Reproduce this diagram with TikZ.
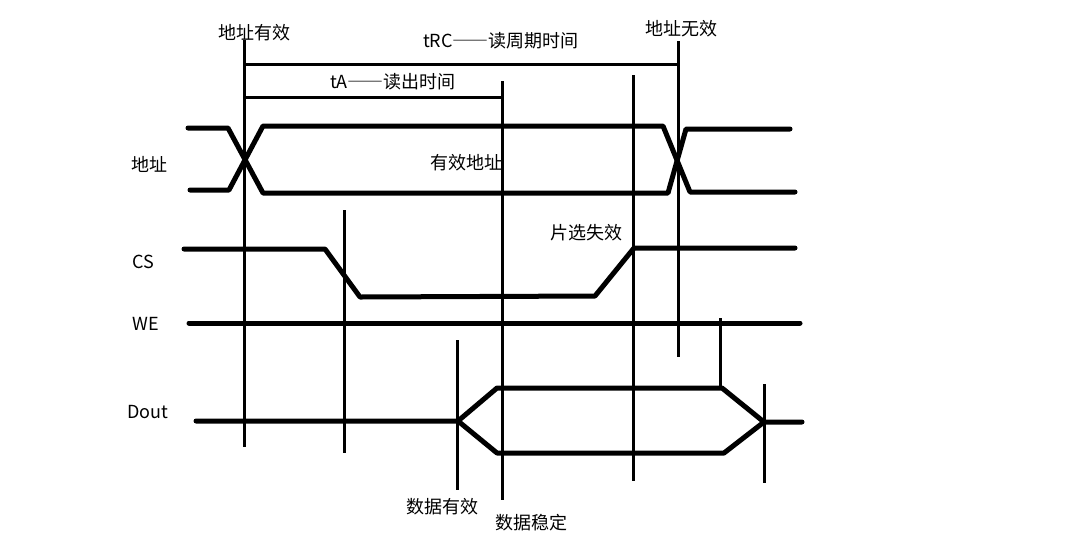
\documentclass[tikz,border=0pt]{standalone}
\usepackage{fontspec}
\newfontfamily\cjk{Noto Sans CJK SC}
\newfontfamily\cjkfw[RawFeature=+fwid]{Noto Sans CJK SC}
\begin{document}
\begin{tikzpicture}[x=1pt,y=-1pt,
  sigline/.style={line width=5pt,line join=round,line cap=round},
  guide/.style={line width=3pt},
  lbl/.style={inner sep=0pt,anchor=west,font=\cjk\fontsize{18}{20}\selectfont}]
\useasboundingbox (0,0) rectangle (1086,542);
\fill[white] (0,0) rectangle (1086,542);
% guide lines
\draw[guide] (244,40) -- (244,447);
\draw[guide] (344,210) -- (344,453);
\draw[guide] (502,81) -- (502,500);
\draw[guide] (633,75) -- (633,481);
\draw[guide] (678,41) -- (678,357);
\draw[guide] (720,318) -- (720,388);
\draw[guide] (457,340) -- (457,490);
\draw[guide] (764,384) -- (764,483);
% tRC and tA
\draw[guide] (246,64) -- (678,64);
\draw[guide] (243,97) -- (503,97);
% address bus
\draw[sigline] (188,128) -- (228,128) -- (263,193) -- (668,193) -- (686,129) -- (790,129);
\draw[sigline] (190,190) -- (229,190) -- (263,126) -- (663,126) -- (690,192) -- (795,192);
% CS
\draw[sigline] (184,249) -- (325,249) -- (360,297) -- (595,296) -- (634,248) -- (795,248);
% WE
\draw[sigline] (189,323) -- (800,323);
% Dout
\draw[sigline] (196,421) -- (458,421) -- (497,388) -- (722,388) -- (764,422) -- (802,422);
\draw[sigline] (458,421) -- (497,453) -- (724,453) -- (764,422);
% labels
\node[lbl] (t1) at (218,33) {地址有效};
\node[lbl] (t2) at (423,41) {tRC{\cjkfw\fontsize{18}{20}\selectfont ——}读周期时间};
\node[lbl] (t3) at (330,82) {tA{\cjkfw\fontsize{18}{20}\selectfont ——}读出时间};
\node[lbl] (t4) at (430,163) {有效地址};
\node[lbl] (t5) at (645,29) {地址无效};
\node[lbl] (t6) at (131,164) {地址};
\node[lbl] (t7) at (132,262) {CS};
\node[lbl] (t8) at (132,324) {WE};
\node[lbl] (t9) at (127,412) {Dout};
\node[lbl] (t10) at (550,233) {片选失效};
\node[lbl] (t11) at (406,507) {数据有效};
\node[lbl] (t12) at (495,523) {数据稳定};
\end{tikzpicture}
\end{document}
